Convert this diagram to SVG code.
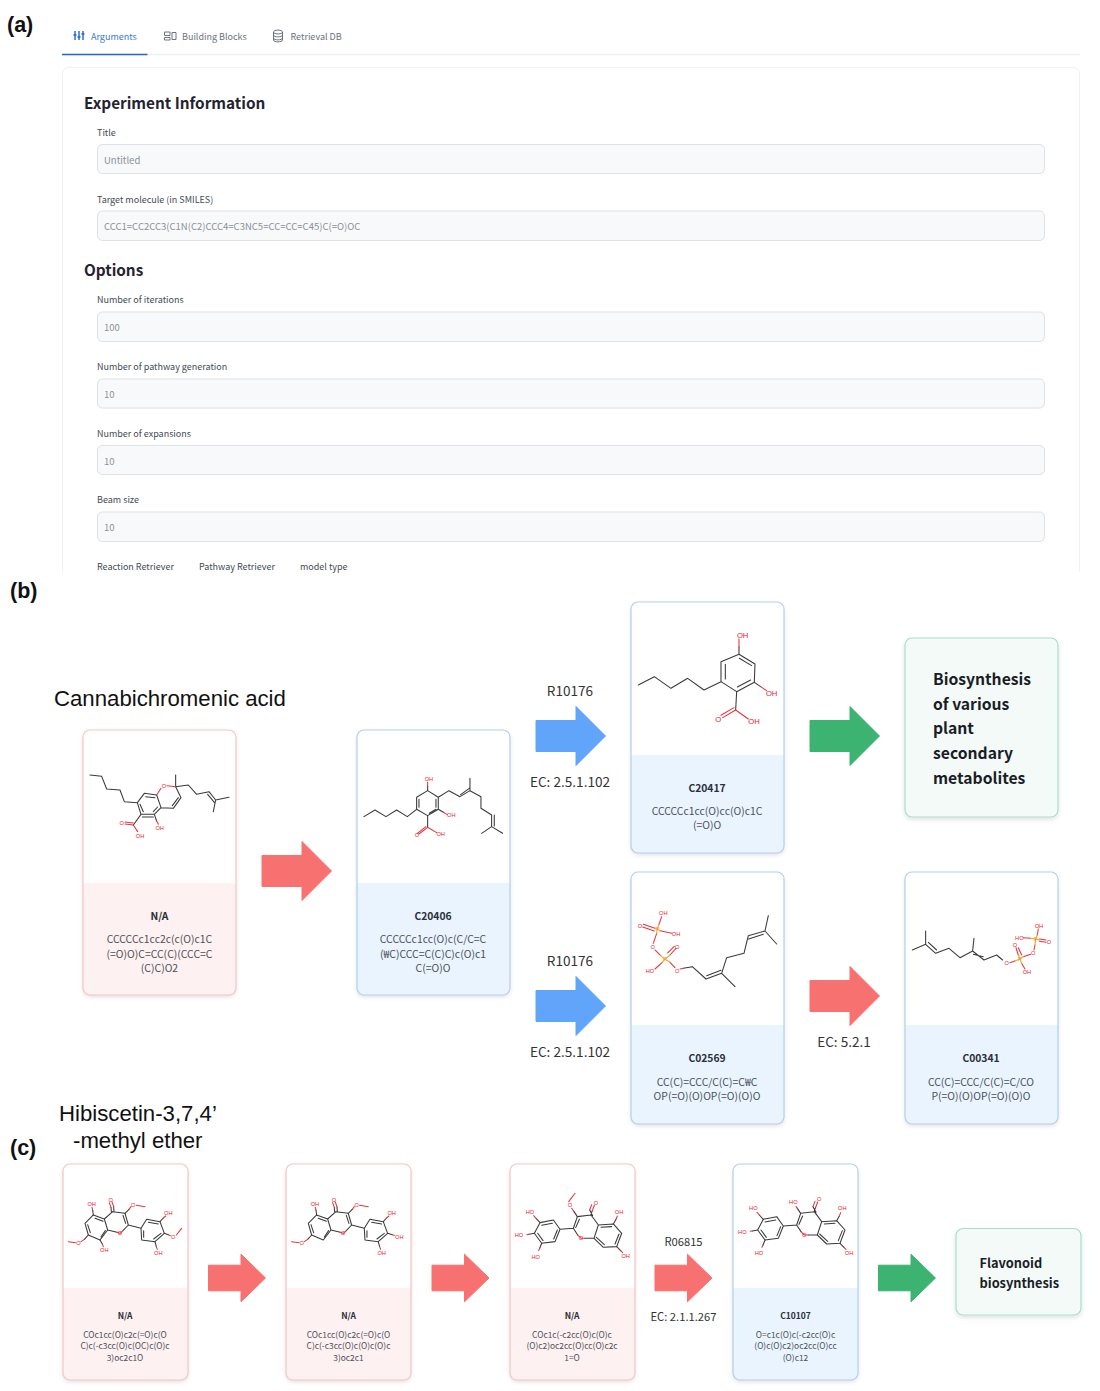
<svg xmlns="http://www.w3.org/2000/svg" width="1100" height="1391" viewBox="0 0 1100 1391">
<style>
text{font-family:"Noto Sans CJK KR","Noto Sans",sans-serif}
.panel{font-family:"Liberation Sans",Arial,sans-serif;font-weight:700;font-size:21.500px;fill:#111}
.cap{font-family:"Liberation Sans",Arial,sans-serif;font-size:22.200px;fill:#111}
.h{font-size:15.300px;font-weight:700;fill:#1f2430}
.lab{font-size:9px;fill:#444b55}
.val{font-size:9.500px;fill:#8a9099}
.tab{font-size:9px;fill:#6b7280}
.field{fill:#f8f9fa;stroke:#dde0e4;stroke-width:1}
.rxn{font-size:13.600px;fill:#333;text-anchor:middle}
.rxc{font-size:11.200px}
.id{font-size:10.300px;font-weight:700;fill:#2b2f38;text-anchor:middle}
.sm{font-size:10.400px;fill:#4b5058;text-anchor:middle}
.idc{font-size:8.500px;font-weight:700;fill:#2b2f38;text-anchor:middle}
.smc{font-size:8.400px;fill:#4b5058;text-anchor:middle}
.end{font-size:15.700px;font-weight:700;fill:#1a1d26}
.endc{font-size:12.800px;font-weight:700;fill:#1a1d26}
.bond{fill:none;stroke:#3a3a3a;stroke-width:3.2;stroke-linejoin:round;stroke-linecap:round}
.obond{fill:none;stroke:#e8343c;stroke-width:3.2;stroke-linecap:round}
.pbond{fill:none;stroke:#f0a030;stroke-width:3.2;stroke-linecap:round}
.a{font-family:"Liberation Sans",Arial,sans-serif;fill:#e8202a;text-anchor:middle;dominant-baseline:central;font-size:17px}
.a2{font-size:23px}
.p{fill:#f0a030}
.red{fill:#f87171;stroke:#f87171}
.blue{fill:#60a5fa;stroke:#60a5fa}
.green{fill:#3cb371;stroke:#3cb371}
.card{fill:none;stroke-width:1.2}
.rc{stroke:#f6c6c8}.rf{fill:#fef1f1}
.bc{stroke:#b5cfef}.bf{fill:#e9f4fe}
.gc{stroke:#a6e0c8;fill:#f3faf7;stroke-width:1.2}
</style>
<defs>
<filter id="sh" x="-10%" y="-10%" width="120%" height="120%"><feDropShadow dx="0" dy="2" stdDeviation="2" flood-color="#000" flood-opacity=".12"/></filter>
<path id="arr" d="M0,-15.500 H40 V-29.500 L69.500,0 L40,29.500 V15.500 H0Z" stroke-width="1" stroke-linejoin="round"/>
<path id="arrc" d="M0,-12.800 H32.500 V-23.800 L57,0 L32.500,23.800 V12.800 H0Z" stroke-width="1" stroke-linejoin="round"/>
<clipPath id="cb1"><rect x="83" y="730" width="153" height="265" rx="7"/></clipPath>
<clipPath id="cb2"><rect x="357" y="730" width="153" height="265" rx="7"/></clipPath>
<clipPath id="cb3"><rect x="631" y="602" width="153" height="251" rx="7"/></clipPath>
<clipPath id="cb5"><rect x="631" y="872" width="153" height="252" rx="7"/></clipPath>
<clipPath id="cb6"><rect x="905" y="872" width="153" height="252" rx="7"/></clipPath>
<clipPath id="cc1"><rect x="63" y="1164" width="125" height="216" rx="7"/></clipPath>
<clipPath id="cc2"><rect x="286" y="1164" width="125" height="216" rx="7"/></clipPath>
<clipPath id="cc3"><rect x="510" y="1164" width="125" height="216" rx="7"/></clipPath>
<clipPath id="cc4"><rect x="733" y="1164" width="125" height="216" rx="7"/></clipPath>
<g id="fl1">
<path class="bond" d="M143,65L180,70L190,105L174,122M156,127L128,120L118,87L143,65M174,76L182,100M118,87L85,75L60,100L70,135L105,150L128,120M114,94L90,85M68,104L76,128M108,141L121,122M190,105L228,115L245,88L285,95L298,130L270,155L230,150L228,115M250,97L280,102M288,130L266,147M236,142L236,122M147,65L146,50M139,65L138,52"/>
<path class="obond" d="M146,50L141,36M138,52L133,38M174,122L165,130L156,127"/>
<text class="a" x="137" y="30">O</text><text class="a" x="165" y="130">O</text>
</g>
<g id="fl2">
<path class="bond" d="M197,70L238,65L260,95L247,135L220,135M197,70L185,105L198,125M192,103L203,78M260,95L305,92L330,120L315,160L275,162L247,135M268,102L300,100M322,122L310,152M278,154L254,132M185,105L145,108L125,80L85,88L68,120L90,150L130,145L145,108M122,90L90,96M78,120L94,142M126,137L137,110M237,65L242,52M243,67L234,50"/>
<path class="obond" d="M242,52L248,36M234,50L240,34M220,135L208,135L198,125"/>
<text class="a" x="253" y="28">O</text><text class="a" x="208" y="135">O</text>
</g>
</defs>
<rect width="1100" height="1391" fill="#fff"/>

<g id="panel-a">
<text class="panel" x="7" y="32">(a)</text>
<g id="tabs">
<path d="M62,54.500H1080" stroke="#eef0f2" stroke-width="1.500"/>
<path d="M62,54.500H147.500" stroke="#2563d8" stroke-width="1.500"/>
<path d="M75,31V40M79,31V40M83,31V40M73.500,35H76.500M77.500,37H80.500M81.500,34H84.500" stroke="#2563d8" stroke-width="1.400" fill="none"/>
<text class="tab" x="91" y="40" style="fill:#3b78d8">Arguments</text>
<path d="M164.500,32H170V35.500H164.500ZM164.500,37.500H170V40H164.500ZM172,32.500H176V39.500H172Z" stroke="#6b7280" fill="none"/>
<text class="tab" x="182" y="40">Building Blocks</text>
<ellipse cx="278" cy="32" rx="4.500" ry="2" stroke="#6b7280" fill="none"/>
<path d="M273.500,32V40C273.500,42.500 282.500,42.500 282.500,40V32M273.500,35C273.500,37.500 282.500,37.500 282.500,35M273.500,38C273.500,40.500 282.500,40.500 282.500,38" stroke="#6b7280" fill="none"/>
<text class="tab" x="290.500" y="40">Retrieval DB</text>
</g>
<path d="M62.500,572V74Q62.500,67.500 69,67.500H1073Q1079.500,67.500 1079.500,74V572" fill="none" stroke="#eff1f3" stroke-width="1"/>
<text class="h" x="84" y="108.500">Experiment Information</text>
<text class="lab" x="97" y="135.500">Title</text>
<rect class="field" x="97.500" y="144.500" width="947" height="29" rx="5"/>
<text class="val" x="104" y="163.500">Untitled</text>
<text class="lab" x="97" y="202.500">Target molecule (in SMILES)</text>
<rect class="field" x="97.500" y="211" width="947" height="29.500" rx="5"/>
<text class="val" x="104" y="230">CCC1=CC2CC3(C1N(C2)CCC4=C3NC5=CC=CC=C45)C(=O)OC</text>
<text class="h" x="84" y="276">Options</text>
<text class="lab" x="97" y="303">Number of iterations</text>
<rect class="field" x="97.500" y="312" width="947" height="29.500" rx="5"/>
<text class="val" x="104" y="331">100</text>
<text class="lab" x="97" y="370">Number of pathway generation</text>
<rect class="field" x="97.500" y="379" width="947" height="29" rx="5"/>
<text class="val" x="104" y="398">10</text>
<text class="lab" x="97" y="436.500">Number of expansions</text>
<rect class="field" x="97.500" y="445.500" width="947" height="29" rx="5"/>
<text class="val" x="104" y="464.500">10</text>
<text class="lab" x="97" y="503">Beam size</text>
<rect class="field" x="97.500" y="512" width="947" height="29.500" rx="5"/>
<text class="val" x="104" y="531">10</text>
<text class="lab" x="97" y="570">Reaction Retriever</text>
<text class="lab" x="199" y="570">Pathway Retriever</text>
<text class="lab" x="300" y="570">model type</text>
</g>

<text class="panel" x="10" y="598">(b)</text>
<text class="cap" x="54" y="706">Cannabichromenic acid</text>
<text class="panel" x="10" y="1154.500">(c)</text>
<text class="cap" x="59" y="1121">Hibiscetin-3,7,4’</text>
<text class="cap" x="73" y="1148">-methyl ether</text>

<g id="connectors">
<use href="#arr" class="red" x="262" y="871"/>
<use href="#arr" class="blue" x="536" y="736"/>
<use href="#arr" class="blue" x="536" y="1006"/>
<use href="#arr" class="green" x="810" y="736"/>
<use href="#arr" class="red" x="810" y="996"/>
<use href="#arrc" class="red" x="208.500" y="1278"/>
<use href="#arrc" class="red" x="432" y="1278"/>
<use href="#arrc" class="red" x="655" y="1278"/>
<use href="#arrc" class="green" x="878.500" y="1278"/>
<text class="rxn" x="570" y="696">R10176</text>
<text class="rxn" x="570" y="787">EC: 2.5.1.102</text>
<text class="rxn" x="570" y="966">R10176</text>
<text class="rxn" x="570" y="1057">EC: 2.5.1.102</text>
<text class="rxn" x="844" y="1047">EC: 5.2.1</text>
<text class="rxn rxc" x="683.500" y="1246">R06815</text>
<text class="rxn rxc" x="683.500" y="1321">EC: 2.1.1.267</text>
</g>

<g id="node-b1">
<rect x="83" y="730" width="153" height="265" rx="7" fill="#fff" filter="url(#sh)"/>
<rect class="rf" x="83" y="883" width="153" height="112" clip-path="url(#cb1)"/>
<rect class="card rc" x="83" y="730" width="153" height="265" rx="7"/>
<g transform="translate(85,765) scale(.3333)">
<path class="bond" d="M15,30L50,34L65,72L105,75L118,110L157,113L178,85L215,90L228,128L208,148L168,148L157,113M182,95L210,98M218,126L205,140M175,140L165,118M228,128L265,130L288,98L272,65L272,30M262,122L280,98M272,65L310,60L335,88L372,80L392,105L432,97M392,105L385,140M368,88L388,112M168,148L145,180M172,156L205,156M208,148L215,168"/>
<path class="obond" d="M215,90L228,70M246,62L272,65M145,180L120,177M145,174L120,171M145,180L158,200M215,168L220,178"/>
<text class="a" x="237" y="62">O</text><text class="a" x="110" y="175">O</text><text class="a" x="165" y="213">OH</text><text class="a" x="224" y="188">OH</text>
</g>
<text class="id" x="159.500" y="920">N/A</text>
<text class="sm" x="159.500" y="943">CCCCCc1cc2c(c(O)c1C</text>
<text class="sm" x="159.500" y="957.500">(=O)O)C=CC(C)(CCC=C</text>
<text class="sm" x="159.500" y="971.500">(C)C)O2</text>
</g>

<g id="node-b2">
<rect x="357" y="730" width="153" height="265" rx="7" fill="#fff" filter="url(#sh)"/>
<rect class="bf" x="357" y="883" width="153" height="112" clip-path="url(#cb2)"/>
<rect class="card bc" x="357" y="730" width="153" height="265" rx="7"/>
<g transform="translate(50,720) scale(.3333)">
<path class="bond" d="M942,290L975,270L1008,290L1040,270L1072,290L1100,268L1100,232L1133,212L1165,232L1165,268L1133,287L1100,268M1107,262V238M1158,238V262M1138,280L1158,268M1133,212V198M1165,232L1197,212L1230,230L1260,212L1260,175M1232,224L1258,205M1260,212L1293,230L1293,265L1325,285L1325,320M1333,285V318M1325,320L1295,340M1325,320L1358,340M1165,268L1180,277M1133,287V322"/>
<path class="obond" d="M1133,198V186M1180,277L1192,284M1133,322L1107,342M1128,320L1102,340M1133,322L1160,338"/>
<text class="a" x="1137" y="176">OH</text><text class="a" x="1204" y="285">OH</text><text class="a" x="1101" y="345">O</text><text class="a" x="1172" y="342">OH</text>
</g>
<text class="id" x="433" y="920">C20406</text>
<text class="sm" x="433" y="943">CCCCCc1cc(O)c(C/C=C</text>
<text class="sm" x="433" y="957.500">(₩C)CCC=C(C)C)c(O)c1</text>
<text class="sm" x="433" y="971.500">C(=O)O</text>
</g>

<g id="node-b3">
<rect x="631" y="602" width="153" height="251" rx="7" fill="#fff" filter="url(#sh)"/>
<rect class="bf" x="631" y="755" width="153" height="98" clip-path="url(#cb3)"/>
<rect class="card bc" x="631" y="602" width="153" height="251" rx="7"/>
<g transform="translate(620,595) scale(.3333)">
<path class="bond" d="M55,270L103,245L153,280L203,250L252,285L303,260L303,200L357,178L405,207L403,262L350,290L303,260M316,252V208M395,212L358,190M392,255L352,276M357,178V155M403,262L422,275M350,290L347,345"/>
<path class="obond" d="M357,155V132M422,275L440,287M347,345L308,368M342,338L303,361M347,345L385,372"/>
<text class="a a2" x="368" y="121">OH</text><text class="a a2" x="455" y="297">OH</text><text class="a a2" x="295" y="374">O</text><text class="a a2" x="402" y="379">OH</text>
</g>
<text class="id" x="707" y="791.500">C20417</text>
<text class="sm" x="707" y="815">CCCCCc1cc(O)cc(O)c1C</text>
<text class="sm" x="707" y="829">(=O)O</text>
</g>

<g id="node-b4">
<rect class="gc" x="905" y="638" width="153" height="179" rx="7" filter="url(#sh)"/>
<text class="end" x="933" y="685">Biosynthesis</text>
<text class="end" x="933" y="709.500">of various</text>
<text class="end" x="933" y="734">plant</text>
<text class="end" x="933" y="759">secondary</text>
<text class="end" x="933" y="783.500">metabolites</text>
</g>

<g id="node-b5">
<rect x="631" y="872" width="153" height="252" rx="7" fill="#fff" filter="url(#sh)"/>
<rect class="bf" x="631" y="1025" width="153" height="99" clip-path="url(#cb5)"/>
<rect class="card bc" x="631" y="872" width="153" height="252" rx="7"/>
<g transform="translate(620,865) scale(.3333)">
<path class="bond" d="M190,310L217,305L258,342L305,325M260,332L303,316M305,325L345,365M305,325L320,278L372,265L385,212L435,198M386,222L430,208M435,198L445,152M435,198L470,237"/>
<path class="obond" d="M180,312L190,310M125,155L117,178M105,190L70,178M103,198L68,186M120,197L155,205M110,205L100,235M105,255L122,272M150,270L168,250M143,264L163,244M127,292L105,312M150,292L165,308"/>
<path class="pbond" d="M117,178L112,192L105,190M112,192L120,197M112,192L110,205M122,272L135,283L127,292M135,283L150,270M135,283L150,292"/>
<text class="a" x="130" y="145">OH</text><text class="a" x="60" y="182">O</text><text class="a" x="168" y="208">OH</text><text class="a" x="98" y="246">O</text><text class="a" x="172" y="245">O</text><text class="a" x="90" y="318">HO</text><text class="a" x="172" y="318">O</text><text class="a p" x="112" y="192">P</text><text class="a p" x="135" y="283">P</text>
</g>
<text class="id" x="707" y="1062">C02569</text>
<text class="sm" x="707" y="1085.500">CC(C)=CCC/C(C)=C₩C</text>
<text class="sm" x="707" y="1100">OP(=O)(O)OP(=O)(O)O</text>
</g>

<g id="node-b6">
<rect x="905" y="872" width="153" height="252" rx="7" fill="#fff" filter="url(#sh)"/>
<rect class="bf" x="905" y="1025" width="153" height="99" clip-path="url(#cb6)"/>
<rect class="card bc" x="905" y="872" width="153" height="252" rx="7"/>
<g transform="translate(620,865) scale(.3333)">
<path class="bond" d="M877,255L917,238L917,198M917,238L947,265L987,250L1020,278L1058,258L1062,220M925,232L950,255M1058,258L1092,285L1130,270L1148,285M1060,268L1090,275"/>
<path class="obond" d="M1170,293L1185,288M1195,270L1188,248M1205,270L1195,248M1205,295L1215,312M1210,275L1232,268M1242,255L1245,240M1252,210L1255,192M1232,220L1210,218M1258,222L1278,225M1258,229L1278,232"/>
<path class="pbond" d="M1185,288L1200,282M1200,282L1195,270M1200,282L1205,295M1200,282L1210,275M1245,240L1247,222L1252,210M1247,222L1232,220M1247,222L1258,225"/>
<text class="a" x="1160" y="295">O</text><text class="a" x="1185" y="240">O</text><text class="a" x="1221" y="320">OH</text><text class="a" x="1240" y="265">O</text><text class="a" x="1257" y="183">OH</text><text class="a" x="1198" y="218">HO</text><text class="a" x="1287" y="230">O</text><text class="a p" x="1200" y="282">P</text><text class="a p" x="1247" y="222">P</text>
</g>
<text class="id" x="981" y="1062">C00341</text>
<text class="sm" x="981" y="1085.500">CC(C)=CCC/C(C)=C/CO</text>
<text class="sm" x="981" y="1100">P(=O)(O)OP(=O)(O)O</text>
</g>

<g id="node-c1">
<rect x="63" y="1164" width="125" height="216" rx="7" fill="#fff" filter="url(#sh)"/>
<rect class="rf" x="63" y="1288" width="125" height="92" clip-path="url(#cc1)"/>
<rect class="card rc" x="63" y="1164" width="125" height="216" rx="7"/>
<g transform="translate(65,1190) scale(.3333)">
<use href="#fl1"/>
<path class="bond" d="M85,75L83,60M105,150L112,162M70,135L58,148M180,70L192,58M285,95L295,84M298,130L310,134M270,155L274,170"/>
<path class="obond" d="M83,60L81,52M112,162L115,170M58,148L48,155M32,158L10,155M192,58L198,50M214,46L240,50M295,84L302,78M310,134L316,137M334,135L350,115M274,170L277,178"/>
<text class="a" x="80" y="42">OH</text><text class="a" x="118" y="181">OH</text><text class="a" x="40" y="160">O</text><text class="a" x="205" y="45">O</text><text class="a" x="310" y="70">OH</text><text class="a" x="325" y="140">O</text><text class="a" x="280" y="190">OH</text>
</g>
<text class="idc" x="125" y="1318.500">N/A</text>
<text class="smc" x="125" y="1337.500">COc1cc(O)c2c(=O)c(O</text>
<text class="smc" x="125" y="1349">C)c(-c3cc(O)c(OC)c(O)c</text>
<text class="smc" x="125" y="1360.500">3)oc2c1O</text>
</g>

<g id="node-c2">
<rect x="286" y="1164" width="125" height="216" rx="7" fill="#fff" filter="url(#sh)"/>
<rect class="rf" x="286" y="1288" width="125" height="92" clip-path="url(#cc2)"/>
<rect class="card rc" x="286" y="1164" width="125" height="216" rx="7"/>
<g transform="translate(288.300,1190) scale(.3333)">
<use href="#fl1"/>
<path class="bond" d="M85,75L83,60M70,135L58,148M180,70L192,58M285,95L295,84M298,130L312,134M270,155L274,170"/>
<path class="obond" d="M83,60L81,52M58,148L48,155M32,158L10,155M192,58L198,50M214,46L240,50M295,84L302,78M312,134L318,136M274,170L277,178"/>
<text class="a" x="80" y="42">OH</text><text class="a" x="40" y="160">O</text><text class="a" x="205" y="45">O</text><text class="a" x="310" y="70">OH</text><text class="a" x="333" y="140">OH</text><text class="a" x="280" y="190">OH</text>
</g>
<text class="idc" x="348.500" y="1318.500">N/A</text>
<text class="smc" x="348.500" y="1337.500">COc1cc(O)c2c(=O)c(O</text>
<text class="smc" x="348.500" y="1349">C)c(-c3cc(O)c(O)c(O)c</text>
<text class="smc" x="348.500" y="1360.500">3)oc2c1</text>
</g>

<g id="node-c3">
<rect x="510" y="1164" width="125" height="216" rx="7" fill="#fff" filter="url(#sh)"/>
<rect class="rf" x="510" y="1288" width="125" height="92" clip-path="url(#cc3)"/>
<rect class="card rc" x="510" y="1164" width="125" height="216" rx="7"/>
<g transform="translate(511.700,1193.300) scale(.3333)">
<use href="#fl2"/>
<path class="bond" d="M197,70L187,55M305,92L313,78M315,160L327,172M85,88L73,75M68,120L52,123M90,150L84,165"/>
<path class="obond" d="M187,55L180,45M171,25L190,0M313,78L317,68M327,172L333,178M73,75L66,67M52,123L46,124M84,165L81,172"/>
<text class="a" x="175" y="35">O</text><text class="a" x="322" y="55">OH</text><text class="a" x="342" y="188">OH</text><text class="a" x="55" y="55">HO</text><text class="a" x="22" y="125">HO</text><text class="a" x="72" y="190">HO</text>
</g>
<text class="idc" x="572" y="1318.500">N/A</text>
<text class="smc" x="572" y="1337.500">COc1c(-c2cc(O)c(O)c</text>
<text class="smc" x="572" y="1349">(O)c2)oc2cc(O)cc(O)c2c</text>
<text class="smc" x="572" y="1360.500">1=O</text>
</g>

<g id="node-c4">
<rect x="733" y="1164" width="125" height="216" rx="7" fill="#fff" filter="url(#sh)"/>
<rect class="bf" x="733" y="1288" width="125" height="92" clip-path="url(#cc4)"/>
<rect class="card bc" x="733" y="1164" width="125" height="216" rx="7"/>
<g transform="translate(735,1190) scale(.3333)">
<use href="#fl2"/>
<path class="bond" d="M197,70L187,55M305,92L313,78M315,160L327,172M85,88L73,75M68,120L52,123M90,150L84,165"/>
<path class="obond" d="M187,55L183,49M313,78L317,68M327,172L333,178M73,75L66,67M52,123L46,124M84,165L81,172"/>
<text class="a" x="175" y="37">HO</text><text class="a" x="322" y="55">OH</text><text class="a" x="342" y="188">OH</text><text class="a" x="55" y="55">HO</text><text class="a" x="22" y="125">HO</text><text class="a" x="72" y="190">HO</text>
</g>
<text class="idc" x="795.500" y="1318.500">C10107</text>
<text class="smc" x="795.500" y="1337.500">O=c1c(O)c(-c2cc(O)c</text>
<text class="smc" x="795.500" y="1349">(O)c(O)c2)oc2cc(O)cc</text>
<text class="smc" x="795.500" y="1360.500">(O)c12</text>
</g>

<g id="node-c5">
<rect class="gc" x="956" y="1228.500" width="125" height="86.500" rx="7" filter="url(#sh)"/>
<text class="endc" x="979.500" y="1267.500">Flavonoid</text>
<text class="endc" x="979.500" y="1287.500">biosynthesis</text>
</g>
</svg>
